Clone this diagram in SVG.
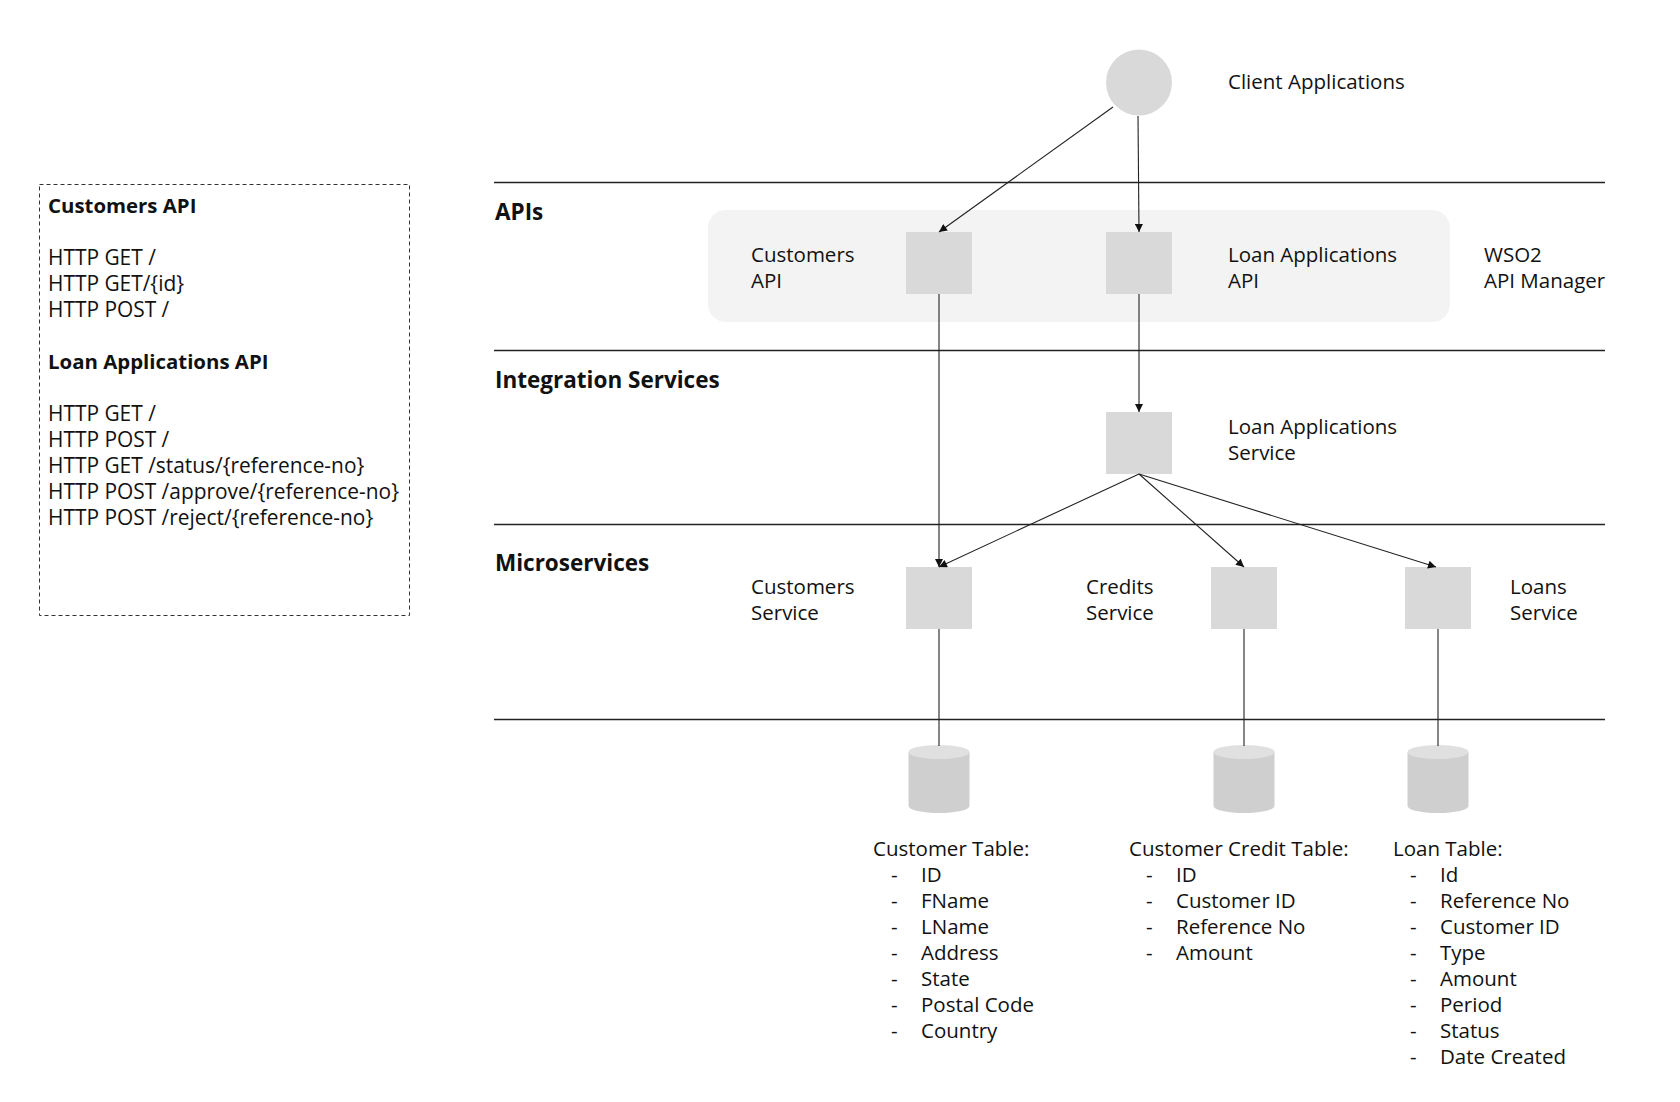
<svg xmlns="http://www.w3.org/2000/svg" width="1680" height="1102" viewBox="0 0 1680 1102">
<defs>
<style>
text{font-family:"Open Sans","Noto Sans","DejaVu Sans",sans-serif;font-size:20.5px;fill:#111}
.b{font-weight:bold;font-size:22.5px}
.spec{font-size:20.9px}
.specb{font-weight:bold;font-size:20.4px}
.layer{stroke:#222;stroke-width:1.3;fill:none}
.box{fill:#d9d9d9}
.conn line{stroke:#222;stroke-width:1.1}
.cyl-body{fill:#cfcfcf}
.cyl-top{fill:#e0e0e0}
</style>
<marker id="ah" viewBox="0 0 10 10" refX="10" refY="5" markerWidth="9" markerHeight="8" markerUnits="userSpaceOnUse" orient="auto">
<path d="M0,0 L10,5 L0,10 z" fill="#111"/>
</marker>
</defs>
<rect width="1680" height="1102" fill="#fff"/>

<g id="api-spec">
<rect x="39.5" y="184.5" width="370" height="431" fill="none" stroke="#333" stroke-width="1" stroke-dasharray="4,3"/>
<text x="48" y="213" class="specb">Customers API</text>
<text x="48" y="265" class="spec">HTTP GET /</text>
<text x="48" y="291" class="spec">HTTP GET/{id}</text>
<text x="48" y="317" class="spec">HTTP POST /</text>
<text x="48" y="369" class="specb">Loan Applications API</text>
<text x="48" y="421" class="spec">HTTP GET /</text>
<text x="48" y="447" class="spec">HTTP POST /</text>
<text x="48" y="473" class="spec">HTTP GET /status/{reference-no}</text>
<text x="48" y="499" class="spec">HTTP POST /approve/{reference-no}</text>
<text x="48" y="525" class="spec">HTTP POST /reject/{reference-no}</text>
</g>

<g id="layers">
<line class="layer" x1="494" y1="182.5" x2="1605" y2="182.5"/>
<line class="layer" x1="494" y1="350.5" x2="1605" y2="350.5"/>
<line class="layer" x1="494" y1="524.5" x2="1605" y2="524.5"/>
<line class="layer" x1="494" y1="719.5" x2="1605" y2="719.5"/>
<text x="495" y="220" class="b">APIs</text>
<text x="495" y="388" class="b">Integration Services</text>
<text x="495" y="571" class="b">Microservices</text>
</g>

<g id="wso2-api-manager">
<rect x="708" y="210" width="742" height="112" rx="18" fill="#f3f3f3"/>
<text x="1484" y="262">WSO2</text>
<text x="1484" y="288">API Manager</text>
</g>

<g id="client-applications">
<circle cx="1139" cy="82.5" r="33" fill="#d9d9d9"/>
<text x="1228" y="89">Client Applications</text>
</g>

<g id="customers-api">
<rect class="box" x="906" y="232" width="66" height="62"/>
<text x="751" y="262">Customers</text>
<text x="751" y="288">API</text>
</g>

<g id="loan-applications-api">
<rect class="box" x="1106" y="232" width="66" height="62"/>
<text x="1228" y="262">Loan Applications</text>
<text x="1228" y="288">API</text>
</g>

<g id="loan-applications-service">
<rect class="box" x="1106" y="412" width="66" height="62"/>
<text x="1228" y="434">Loan Applications</text>
<text x="1228" y="460">Service</text>
</g>

<g id="customers-service">
<rect class="box" x="906" y="567" width="66" height="62"/>
<text x="751" y="594">Customers</text>
<text x="751" y="620">Service</text>
</g>

<g id="credits-service">
<rect class="box" x="1211" y="567" width="66" height="62"/>
<text x="1086" y="594">Credits</text>
<text x="1086" y="620">Service</text>
</g>

<g id="loans-service">
<rect class="box" x="1405" y="567" width="66" height="62"/>
<text x="1510" y="594">Loans</text>
<text x="1510" y="620">Service</text>
</g>

<g id="customer-table">
<path class="cyl-body" d="M908.5,752 L908.5,806 A30.5,7 0 0 0 969.5,806 L969.5,752 z"/>
<ellipse class="cyl-top" cx="939" cy="752" rx="30.5" ry="7"/>
<text x="873" y="856">Customer Table:</text>
<text x="891" y="882">-</text><text x="921" y="882">ID</text>
<text x="891" y="908">-</text><text x="921" y="908">FName</text>
<text x="891" y="934">-</text><text x="921" y="934">LName</text>
<text x="891" y="960">-</text><text x="921" y="960">Address</text>
<text x="891" y="986">-</text><text x="921" y="986">State</text>
<text x="891" y="1012">-</text><text x="921" y="1012">Postal Code</text>
<text x="891" y="1038">-</text><text x="921" y="1038">Country</text>
</g>

<g id="customer-credit-table">
<path class="cyl-body" d="M1213.5,752 L1213.5,806 A30.5,7 0 0 0 1274.5,806 L1274.5,752 z"/>
<ellipse class="cyl-top" cx="1244" cy="752" rx="30.5" ry="7"/>
<text x="1129" y="856">Customer Credit Table:</text>
<text x="1146" y="882">-</text><text x="1176" y="882">ID</text>
<text x="1146" y="908">-</text><text x="1176" y="908">Customer ID</text>
<text x="1146" y="934">-</text><text x="1176" y="934">Reference No</text>
<text x="1146" y="960">-</text><text x="1176" y="960">Amount</text>
</g>

<g id="loan-table">
<path class="cyl-body" d="M1407.5,752 L1407.5,806 A30.5,7 0 0 0 1468.5,806 L1468.5,752 z"/>
<ellipse class="cyl-top" cx="1438" cy="752" rx="30.5" ry="7"/>
<text x="1393" y="856">Loan Table:</text>
<text x="1410" y="882">-</text><text x="1440" y="882">Id</text>
<text x="1410" y="908">-</text><text x="1440" y="908">Reference No</text>
<text x="1410" y="934">-</text><text x="1440" y="934">Customer ID</text>
<text x="1410" y="960">-</text><text x="1440" y="960">Type</text>
<text x="1410" y="986">-</text><text x="1440" y="986">Amount</text>
<text x="1410" y="1012">-</text><text x="1440" y="1012">Period</text>
<text x="1410" y="1038">-</text><text x="1440" y="1038">Status</text>
<text x="1410" y="1064">-</text><text x="1440" y="1064">Date Created</text>
</g>

<g id="connectors" class="conn">
<line x1="1113" y1="107" x2="939" y2="232" marker-end="url(#ah)"/>
<line x1="1138" y1="116" x2="1139" y2="232" marker-end="url(#ah)"/>
<line x1="939" y1="294" x2="939" y2="567" marker-end="url(#ah)"/>
<line x1="1139" y1="294" x2="1139" y2="412" marker-end="url(#ah)"/>
<line x1="1139" y1="474" x2="939" y2="567" marker-end="url(#ah)"/>
<line x1="1139" y1="474" x2="1244" y2="567" marker-end="url(#ah)"/>
<line x1="1139" y1="474" x2="1436" y2="567" marker-end="url(#ah)"/>
<line x1="939" y1="629" x2="939" y2="746"/>
<line x1="1244" y1="629" x2="1244" y2="746"/>
<line x1="1438" y1="629" x2="1438" y2="746"/>
</g>
</svg>
